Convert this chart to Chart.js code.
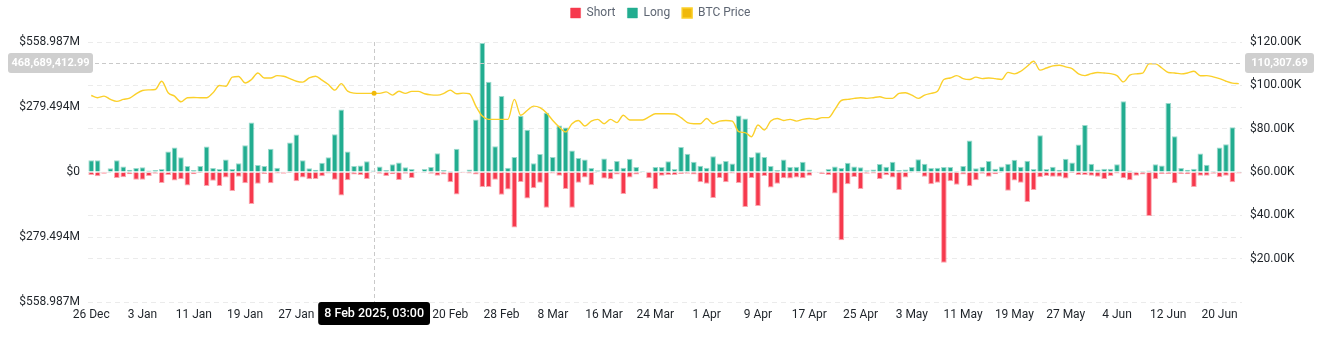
<!DOCTYPE html>
<html>
<head>
<meta charset="utf-8">
<script src="https://cdn.jsdelivr.net/npm/chart.js@4.4.1/dist/chart.umd.min.js"></script>
<style>
  html, body { margin: 0; padding: 0; background: #fff; }
  #wrap { width: 1321px; height: 350px; }
</style>
</head>
<body>
<div id="wrap"><canvas id="chart" width="1321" height="350"></canvas></div>
<script>
// Daily liquidations, 26 Dec 2024 - 23 Jun 2025
const startDate = new Date(2024, 11, 26);
const dayCount = 180;
const tickLabels = ['26 Dec', '3 Jan', '11 Jan', '19 Jan', '27 Jan', '4 Feb', '12 Feb', '20 Feb', '28 Feb',
  '8 Mar', '16 Mar', '24 Mar', '1 Apr', '9 Apr', '17 Apr', '25 Apr', '3 May', '11 May', '19 May',
  '27 May', '4 Jun', '12 Jun', '20 Jun'];

// millions of USD
const longValues = [
  50, 50, 3, 16, 50, 24, 10, 17, 20, 6, 9, 13, 88, 105, 63, 26, 9, 26, 110, 17, 13, 54, 13, 38, 115, 213, 30, 26, 100, 18,
  3, 127, 161, 50, 16, 10, 40, 63, 162, 269, 88, 26, 28, 46, 6, 24, 9, 33, 41, 20, 13, 3, 13, 21, 81, 9, 4, 100, 1, 11,
  226, 555, 388, 111, 327, 18, 64, 242, 182, 38, 77, 255, 64, 200, 191, 92, 60, 54, 17, 7, 58, 13, 47, 18, 57, 21, 4, 3, 21, 21,
  46, 13, 108, 78, 44, 27, 18, 68, 37, 47, 37, 243, 230, 65, 85, 64, 26, 9, 54, 21, 23, 44, 11, 3, 1, 13, 24, 17, 40, 24,
  20, 7, 11, 34, 23, 44, 9, 11, 21, 55, 36, 17, 18, 21, 21, 4, 26, 135, 16, 23, 47, 14, 24, 36, 53, 23, 48, 13, 158, 13,
  23, 10, 57, 41, 118, 202, 36, 11, 14, 14, 33, 304, 6, 1, 4, 6, 33, 28, 297, 154, 17, 10, 14, 80, 31, 4, 105, 119, 192, 1
];
const shortValues = [
  13, 18, 8, 3, 26, 23, 10, 33, 33, 17, 7, 47, 13, 37, 31, 58, 10, 4, 60, 38, 60, 24, 82, 20, 48, 138, 51, 9, 48, 6,
  7, 4, 40, 24, 31, 30, 18, 6, 33, 101, 36, 11, 13, 30, 1, 7, 17, 10, 34, 7, 26, 1, 1, 7, 16, 11, 44, 97, 4, 6,
  11, 65, 65, 33, 98, 75, 239, 43, 114, 70, 46, 154, 6, 16, 73, 154, 46, 24, 57, 3, 28, 31, 11, 95, 24, 11, 3, 27, 74, 16,
  13, 13, 9, 7, 11, 44, 50, 112, 26, 44, 6, 47, 151, 26, 146, 17, 67, 50, 27, 28, 24, 27, 16, 1, 9, 13, 92, 293, 53, 21,
  73, 7, 6, 30, 14, 24, 77, 24, 1, 1, 20, 53, 46, 390, 40, 55, 11, 61, 36, 7, 20, 10, 1, 81, 37, 46, 129, 77, 23, 17,
  20, 20, 28, 4, 13, 13, 16, 20, 30, 17, 6, 27, 36, 16, 11, 189, 31, 9, 9, 48, 9, 10, 65, 16, 16, 7, 23, 16, 44, 6
];
// thousands of USD
const btcPrice = [
  95.3, 94.3, 95.0, 93.5, 92.6, 93.5, 94.1, 96.1, 97.6, 97.9, 98.1, 101.9, 96.6, 95.0, 92.4, 94.3, 94.4, 94.3, 94.3, 96.6,
  99.9, 99.6, 103.8, 104.1, 101.1, 102.7, 105.7, 103.4, 103.4, 104.5,
  104.2, 103.1, 101.9, 101.5, 103.4, 104.2, 102.4, 100.4, 97.8, 100.8, 97.3, 96.4, 96.3, 96.3, 96.3, 96.3, 97.0, 95.5, 97.3, 96.3,
  97.2, 97.2, 96.1, 95.6, 95.5, 96.3, 97.8, 96.1, 96.4, 96.1,
  90.4, 85.8, 84.3, 84.3, 84.3, 84.3, 93.5, 86.2, 88.4, 90.4, 89.7, 87.4, 83.8, 80.8, 78.5, 82.3, 83.8, 81.2, 83.5, 84.3,
  82.3, 84.3, 82.8, 86.2, 84.0, 84.0, 84.0, 85.4, 86.9, 86.9,
  86.9, 86.8, 85.1, 82.8, 82.3, 82.3, 84.7, 82.3, 83.5, 83.8, 83.5, 78.6, 78.2, 76.3, 81.7, 79.4, 83.5, 84.7, 83.8, 84.3,
  83.5, 84.3, 84.7, 84.3, 85.1, 85.1, 88.9, 93.0, 93.5, 94.0,
  94.3, 94.0, 94.3, 94.7, 94.0, 94.0, 96.3, 96.6, 95.5, 94.0, 95.5, 96.3, 97.3, 102.7, 103.4, 104.5, 103.1, 102.7, 103.8, 103.1,
  103.4, 103.1, 102.7, 106.0, 105.3, 106.5, 108.8, 111.1, 107.0, 108.0,
  109.0, 109.3, 108.5, 107.7, 105.3, 104.5, 105.4, 105.9, 105.7, 105.4, 104.5, 101.6, 104.7, 105.3, 105.6, 109.9, 109.9, 108.0, 105.9, 105.7,
  105.3, 105.7, 106.5, 104.4, 104.5, 103.9, 103.1, 101.9, 101.0, 100.8
];

// crosshair state shown in the screenshot
const crossIndex = 44;
const crossHourFraction = 3 / 24;
const crossDateText = '8 Feb 2025, 03:00';
const crossLeftValue = 468689412.99;
const crossLeftText = '468,689,412.99';
const crossRightText = '110,307.69';

const yMax = 558987000;
const monthNames = ['Jan', 'Feb', 'Mar', 'Apr', 'May', 'Jun', 'Jul', 'Aug', 'Sep', 'Oct', 'Nov', 'Dec'];

const labels = [];
for (let i = 0; i < dayCount; i++) {
  const d = new Date(startDate.getFullYear(), startDate.getMonth(), startDate.getDate() + i);
  labels.push(d.getDate() + ' ' + monthNames[d.getMonth()]);
}

const FONT = 'Roboto, "Noto Sans", sans-serif';

function roundRect(ctx, x, y, w, h, r) {
  ctx.beginPath();
  ctx.moveTo(x + r, y);
  ctx.lineTo(x + w - r, y);
  ctx.arcTo(x + w, y, x + w, y + r, r);
  ctx.lineTo(x + w, y + h - r);
  ctx.arcTo(x + w, y + h, x + w - r, y + h, r);
  ctx.lineTo(x + r, y + h);
  ctx.arcTo(x, y + h, x, y + h - r, r);
  ctx.lineTo(x, y + r);
  ctx.arcTo(x, y, x + r, y, r);
  ctx.closePath();
}

// fixed legend block height, items nudged up a little
const legendHeight = {
  id: 'legendHeight',
  beforeInit(chart) {
    const legend = chart.legend;
    const fit = legend.fit;
    legend.fit = function() {
      fit.call(this);
      this.height = 42;
    };
    const draw = legend.draw;
    legend.draw = function() {
      const ctx = this.ctx;
      ctx.save();
      ctx.translate(0, -5);
      draw.apply(this, arguments);
      ctx.restore();
    };
  }
};

const crosshair = {
  id: 'crosshair',
  afterDraw(chart) {
    const ctx = chart.ctx;
    const area = chart.chartArea;
    const xs = chart.scales.x;
    const ys = chart.scales.y;
    const y1 = chart.scales.y1;
    const pitch = xs.getPixelForValue(1) - xs.getPixelForValue(0);
    const cx = xs.getPixelForValue(crossIndex) + pitch * crossHourFraction;
    const cy = ys.getPixelForValue(crossLeftValue);

    ctx.save();
    ctx.strokeStyle = '#c9c9c9';
    ctx.lineWidth = 1;
    ctx.setLineDash([4, 3]);
    ctx.beginPath();
    ctx.moveTo(Math.round(cx) + 0.5, area.top);
    ctx.lineTo(Math.round(cx) + 0.5, area.bottom);
    ctx.moveTo(area.left, Math.round(cy) + 0.5);
    ctx.lineTo(area.right, Math.round(cy) + 0.5);
    ctx.stroke();
    ctx.setLineDash([]);

    // point on the price line
    const py = y1.getPixelForValue(btcPrice[crossIndex] * 1000);
    ctx.fillStyle = '#f0b90b';
    ctx.beginPath();
    ctx.arc(cx, py, 2.5, 0, Math.PI * 2);
    ctx.fill();

    // value boxes
    ctx.font = 'bold 11px ' + FONT;
    ctx.textBaseline = 'middle';
    ctx.textAlign = 'center';
    ctx.fillStyle = '#cfcfcf';
    roundRect(ctx, 8, cy - 10, 85, 20, 3);
    ctx.fill();
    ctx.fillStyle = '#ffffff';
    ctx.fillText(crossLeftText, 50.5, cy + 0.5);

    ctx.fillStyle = '#cfcfcf';
    roundRect(ctx, 1245, cy - 10, 69, 20, 3);
    ctx.fill();
    ctx.fillStyle = '#ffffff';
    ctx.fillText(crossRightText, 1279.5, cy + 0.5);

    // date box
    ctx.font = '500 12.5px ' + FONT;
    const tw = ctx.measureText(crossDateText).width;
    const bw = tw + 12;
    ctx.fillStyle = '#000000';
    roundRect(ctx, cx - bw / 2, 302, bw, 23, 3);
    ctx.fill();
    ctx.fillStyle = '#ffffff';
    ctx.fillText(crossDateText, cx, 314);
    ctx.restore();
  }
};

const gridStyle = { color: '#ebebeb', lineWidth: 1, drawTicks: false };

new Chart(document.getElementById('chart'), {
  data: {
    labels: labels,
    datasets: [
      {
        type: 'bar',
        label: 'Short',
        data: shortValues.map(v => -v * 1e6),
        backgroundColor: '#f6394d',
        borderColor: 'rgba(246, 57, 77, 0.45)',
        borderWidth: 1,
        yAxisID: 'y',
        stack: 'liq',
        order: 1
      },
      {
        type: 'bar',
        label: 'Long',
        data: longValues.map(v => v * 1e6),
        backgroundColor: '#22ad90',
        borderColor: 'rgba(34, 173, 144, 0.45)',
        borderWidth: 1,
        yAxisID: 'y',
        stack: 'liq',
        order: 1
      },
      {
        type: 'line',
        label: 'BTC Price',
        data: btcPrice.map(v => v * 1000),
        borderColor: '#fbd02a',
        backgroundColor: '#f0b90b',
        borderWidth: 1.4,
        pointRadius: 0,
        cubicInterpolationMode: 'monotone',
        yAxisID: 'y1',
        order: 0
      }
    ]
  },
  options: {
    responsive: false,
    devicePixelRatio: 1,
    animation: false,
    events: [],
    layout: { padding: 0 },
    datasets: {
      bar: { barPercentage: 0.88, categoryPercentage: 1 }
    },
    plugins: {
      tooltip: { enabled: false },
      legend: {
        position: 'top',
        labels: {
          boxWidth: 10,
          boxHeight: 10,
          padding: 12,
          color: '#5e6673',
          font: { family: FONT, size: 12 },
          sort: (a, b) => a.datasetIndex - b.datasetIndex
        }
      }
    },
    scales: {
      x: {
        stacked: true,
        offset: true,
        grid: { display: false, drawTicks: false },
        border: { display: false },
        afterFit: s => { s.height = 48; },
        ticks: {
          autoSkip: false,
          maxRotation: 0,
          padding: 6,
          color: '#1e2329',
          font: { family: FONT, size: 12 },
          callback: function(v, i) {
            return tickLabels.includes(labels[i]) ? labels[i] : '';
          }
        }
      },
      y: {
        position: 'left',
        stacked: true,
        min: -yMax,
        max: yMax,
        grid: gridStyle,
        border: { display: false, dash: [5, 4] },
        afterFit: s => { s.width = 88; },
        ticks: {
          stepSize: yMax / 2,
          padding: 8,
          color: '#1e2329',
          font: { family: FONT, size: 12 },
          callback: v => {
            if (Math.abs(v) < 1) return '$0';
            return '$' + (Math.round(Math.abs(v) / 1e3) / 1e3).toFixed(3) + 'M';
          }
        }
      },
      y1: {
        position: 'right',
        min: 0,
        max: 120000,
        grid: gridStyle,
        border: { display: false, dash: [5, 4] },
        afterFit: s => { s.width = 79; },
        ticks: {
          stepSize: 20000,
          padding: 8,
          color: '#1e2329',
          font: { family: FONT, size: 12 },
          callback: v => v === 0 ? '' : '$' + (v / 1000).toFixed(2) + 'K'
        }
      }
    }
  },
  plugins: [legendHeight, crosshair]
});
</script>
</body>
</html>
